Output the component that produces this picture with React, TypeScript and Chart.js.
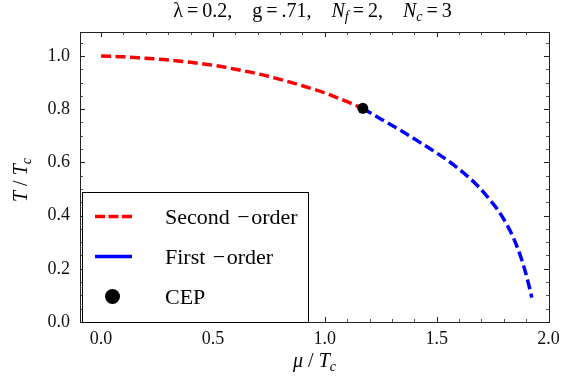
import React, { useEffect, useRef } from "react";
import { Chart, registerables } from "chart.js";

Chart.register(...registerables);

// ---- data ----
const secondOrderMu = [0, 0.1, 0.2, 0.3, 0.4, 0.5, 0.6, 0.7, 0.8, 0.9, 1.0, 1.1, 1.17];
const secondOrderT = [1.0, 0.997, 0.991, 0.985, 0.976, 0.965, 0.95, 0.933, 0.912, 0.888, 0.861, 0.828, 0.803];

const firstOrderMu = [1.17, 1.25, 1.335, 1.42, 1.513, 1.58, 1.647, 1.69, 1.737, 1.77, 1.795, 1.826, 1.857, 1.879, 1.897, 1.911, 1.925];
const firstOrderT = [0.803, 0.763, 0.722, 0.678, 0.628, 0.588, 0.541, 0.506, 0.46, 0.425, 0.393, 0.347, 0.288, 0.237, 0.187, 0.142, 0.092];

const cepMu = [1.17];
const cepT = [0.803];

const xTickValues = [0, 0.5, 1.0, 1.5, 2.0];
const yTickValues = [0, 0.2, 0.4, 0.6, 0.8, 1.0];
const xMinorStep = 0.1;
const yMinorStep = 0.05;

const legendLabels = ["Second \u2212order", "First \u2212order", "CEP"];

const FONT = '"Liberation Serif", "Times New Roman", serif';

type Seg = { t: string; i?: boolean; sub?: boolean };

const TS = "\u2009";
const GAP = ",\u2003";
const titleSegs: Seg[] = [
  { t: `\u03bb${TS}=${TS}0.2${GAP}g${TS}=${TS}.71${GAP}` },
  { t: "N", i: true },
  { t: "f", i: true, sub: true },
  { t: `${TS}=${TS}2${GAP}` },
  { t: "N", i: true },
  { t: "c", i: true, sub: true },
  { t: `${TS}=${TS}3` },
];
const xTitleSegs: Seg[] = [
  { t: "\u03bc", i: true },
  { t: " / " },
  { t: "T", i: true },
  { t: "c", i: true, sub: true },
];
const yTitleSegs: Seg[] = [
  { t: "T", i: true },
  { t: " / " },
  { t: "T", i: true },
  { t: "c", i: true, sub: true },
];

function drawRich(ctx: CanvasRenderingContext2D, segs: Seg[], x: number, y: number, size: number) {
  const fontOf = (s: Seg) => `${s.i ? "italic " : ""}${s.sub ? Math.round(size * 0.72) : size}px ${FONT}`;
  let total = 0;
  const widths = segs.map((s) => {
    ctx.font = fontOf(s);
    const w = ctx.measureText(s.t).width;
    total += w;
    return w;
  });
  let cx = x - total / 2;
  ctx.textAlign = "left";
  ctx.textBaseline = "alphabetic";
  segs.forEach((s, k) => {
    ctx.font = fontOf(s);
    ctx.fillText(s.t, cx, s.sub ? y + size * 0.22 : y);
    cx += widths[k];
  });
}

const toPts = (xs: number[], ys: number[]) => xs.map((x, k) => ({ x, y: ys[k] }));

const framePlugin = {
  id: "frameTicks",
  beforeDatasetsDraw(chart: any) {
    const { ctx, chartArea: a, scales } = chart;
    const xs = scales.x;
    const ys = scales.y;
    ctx.save();
    ctx.lineWidth = 1;
    const tick = (x1: number, y1: number, x2: number, y2: number, color: string) => {
      ctx.strokeStyle = color;
      ctx.beginPath();
      ctx.moveTo(x1, y1);
      ctx.lineTo(x2, y2);
      ctx.stroke();
    };
    const isMajor = (v: number, arr: number[]) => arr.some((m) => Math.abs(m - v) < 1e-6);
    for (let k = 0; k <= Math.round(2.0 / xMinorStep); k++) {
      const v = k * xMinorStep;
      const px = Math.round(xs.getPixelForValue(v)) + 0.5;
      if (px < a.left || px > a.right + 1) continue;
      const major = isMajor(v, xTickValues);
      const len = major ? 5 : 3;
      const col = major ? "#222" : "#555";
      tick(px, a.bottom, px, a.bottom - len, col);
      tick(px, a.top, px, a.top + len, col);
    }
    for (let k = 0; k <= Math.round(1.05 / yMinorStep); k++) {
      const v = k * yMinorStep;
      const py = Math.round(ys.getPixelForValue(v)) + 0.5;
      if (py < a.top || py > a.bottom + 1) continue;
      const major = isMajor(v, yTickValues);
      const len = major ? 5 : 3;
      const col = major ? "#222" : "#555";
      tick(a.left, py, a.left + len, py, col);
      tick(a.right, py, a.right - len, py, col);
    }
    ctx.strokeStyle = "#222";
    ctx.strokeRect(Math.round(a.left) + 0.5, Math.round(a.top) + 0.5, Math.round(a.right - a.left), Math.round(a.bottom - a.top));
    ctx.restore();
  },
  afterDraw(chart: any) {
    const { ctx, chartArea: a } = chart;
    ctx.save();
    ctx.fillStyle = "#000";
    drawRich(ctx, titleSegs, (a.left + a.right) / 2 - 2, 17, 20);
    drawRich(ctx, xTitleSegs, (a.left + a.right) / 2, 367, 20);
    ctx.save();
    ctx.translate(27, (a.top + a.bottom) / 2 + 3);
    ctx.rotate(-Math.PI / 2);
    drawRich(ctx, yTitleSegs, 0, 0, 20);
    ctx.restore();

    // legend box
    const lx = Math.round(a.left) + 2.5;
    const ly = 192.5;
    const lw = 226;
    const lh = Math.round(a.bottom) - 192;
    ctx.fillStyle = "#fff";
    ctx.fillRect(lx, ly, lw, lh);
    ctx.strokeStyle = "#000";
    ctx.lineWidth = 1;
    ctx.strokeRect(lx, ly, lw, lh);

    const rows = [216.5, 256.5, 296.5];
    ctx.lineWidth = 3.5;
    ctx.lineCap = "butt";
    ctx.strokeStyle = "#ff0000";
    ctx.setLineDash([10, 3.5]);
    ctx.beginPath();
    ctx.moveTo(95, rows[0]);
    ctx.lineTo(132, rows[0]);
    ctx.stroke();
    ctx.setLineDash([]);
    ctx.strokeStyle = "#0000ff";
    ctx.beginPath();
    ctx.moveTo(95, rows[1]);
    ctx.lineTo(132, rows[1]);
    ctx.stroke();
    ctx.fillStyle = "#000";
    ctx.beginPath();
    ctx.arc(112.5, rows[2], 7.5, 0, Math.PI * 2);
    ctx.fill();

    ctx.font = `22px ${FONT}`;
    ctx.textAlign = "left";
    ctx.textBaseline = "alphabetic";
    const drawLabel = (s: string, y: number) => {
      const parts = s.split("\u2212");
      if (parts.length === 2) {
        let cx = 165;
        ctx.fillText(parts[0], cx, y);
        cx += ctx.measureText(parts[0]).width + 2;
        ctx.fillText("\u2212", cx, y);
        cx += ctx.measureText("\u2212").width + 1.5;
        ctx.fillText(parts[1], cx, y);
      } else {
        ctx.fillText(s, 165, y);
      }
    };
    drawLabel(legendLabels[0], 224);
    drawLabel(legendLabels[1], 264);
    drawLabel(legendLabels[2], 304);
    ctx.restore();
  },
};

export default function App() {
  const ref = useRef<HTMLCanvasElement | null>(null);
  useEffect(() => {
    if (!ref.current) return;
    const tickFont = { family: FONT, size: 18 };
    const chart = new Chart(ref.current, {
      type: "scatter",
      data: {
        datasets: [
          {
            label: legendLabels[2],
            data: toPts(cepMu, cepT),
            showLine: false,
            borderColor: "#000",
            backgroundColor: "#000",
            pointRadius: 5.5,
            pointBorderWidth: 0,
            order: 0,
          },
          {
            label: legendLabels[0],
            data: toPts(secondOrderMu, secondOrderT),
            showLine: true,
            borderColor: "#ff0000",
            backgroundColor: "#ff0000",
            borderWidth: 3.5,
            borderDash: [10, 4.5],
            pointRadius: 0,
            cubicInterpolationMode: "monotone",
            order: 1,
          },
          {
            label: legendLabels[1],
            data: toPts(firstOrderMu, firstOrderT),
            showLine: true,
            borderColor: "#0000ff",
            backgroundColor: "#0000ff",
            borderWidth: 3.5,
            borderDash: [10, 4.5],
            pointRadius: 0,
            cubicInterpolationMode: "monotone",
            order: 2,
          },
        ],
      },
      options: {
        animation: false,
        responsive: false,
        devicePixelRatio: 1,
        layout: { padding: { top: 32, right: 13, bottom: 0, left: 0 } },
        plugins: {
          legend: { display: false },
          title: { display: false },
          tooltip: { enabled: false },
        },
        scales: {
          x: {
            type: "linear",
            min: -0.094,
            max: 2.002,
            grid: { display: false, drawTicks: false },
            border: { display: false },
            afterBuildTicks: (s: any) => {
              s.ticks = xTickValues.map((v) => ({ value: v }));
            },
            afterFit: (s: any) => {
              s.height = 62;
              s.paddingLeft = 0;
              s.paddingRight = 0;
            },
            ticks: {
              font: tickFont,
              color: "#111",
              padding: 6,
              maxRotation: 0,
              autoSkip: false,
              callback: (v: any) => Number(v).toFixed(1),
            },
          },
          y: {
            type: "linear",
            min: 0,
            max: 1.09,
            grid: { display: false, drawTicks: false },
            border: { display: false },
            afterBuildTicks: (s: any) => {
              s.ticks = yTickValues.map((v) => ({ value: v }));
            },
            afterFit: (s: any) => {
              s.width = 80;
              s.paddingTop = 0;
              s.paddingBottom = 0;
            },
            ticks: {
              font: tickFont,
              color: "#111",
              padding: 10,
              autoSkip: false,
              callback: (v: any) => Number(v).toFixed(1),
            },
          },
        },
      },
      plugins: [framePlugin],
    });
    return () => chart.destroy();
  }, []);
  return (
    <div style={{ position: "fixed", left: 0, top: 0, width: 562, height: 384, background: "#fff" }}>
      <canvas ref={ref} width={562} height={384} style={{ display: "block" }} />
    </div>
  );
}
